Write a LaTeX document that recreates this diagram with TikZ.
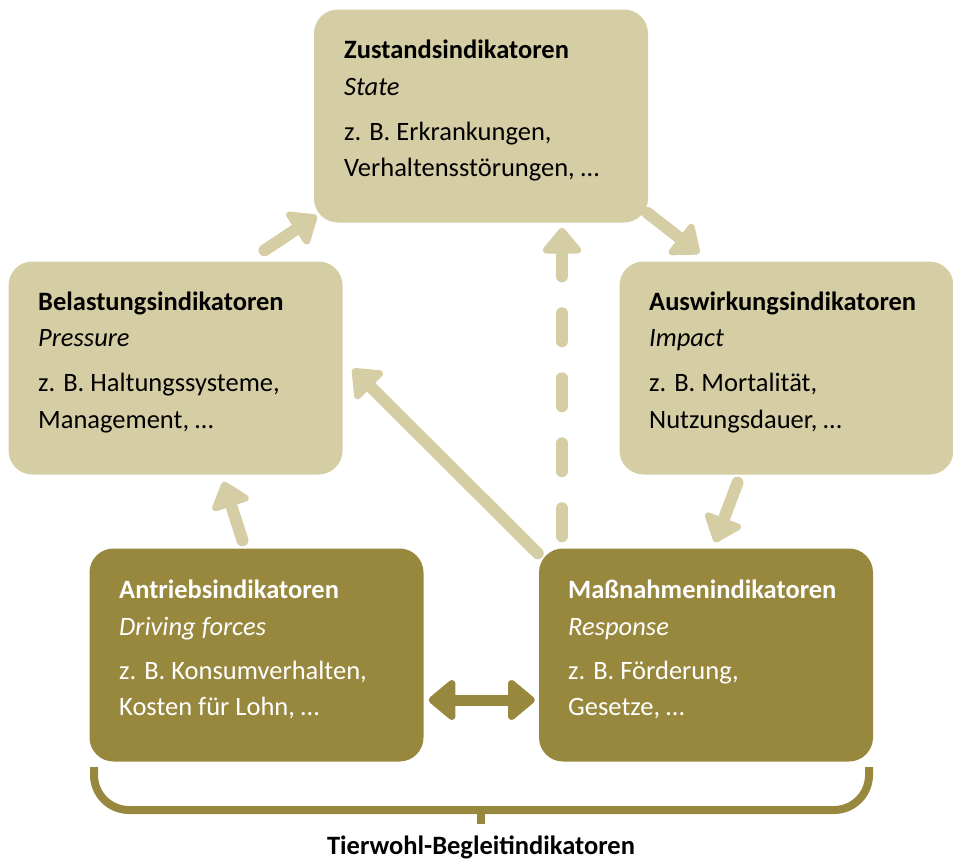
\documentclass[tikz,border=0pt]{standalone}
\usepackage{fontspec}
\setmainfont{Carlito}
\usetikzlibrary{arrows.meta}
\definecolor{light}{RGB}{213,205,164}
\definecolor{dark}{RGB}{152,136,62}
\tikzset{
  box/.style={rounded corners=24pt, minimum width=334pt, minimum height=213pt, inner sep=0pt, draw=none},
  lbox/.style={box, fill=light},
  dbox/.style={box, fill=dark},
  txt/.style={anchor=base west, inner sep=0pt, font=\fontsize{26.5pt}{30pt}\selectfont},
  bold/.style={txt, font=\fontsize{26.5pt}{30pt}\selectfont\bfseries},
  ital/.style={txt, font=\fontsize{26.5pt}{30pt}\selectfont\itshape},
  arr/.style={draw=light, line width=12pt, line cap=round,
     -{Triangle[width=44pt,length=28pt,round]}},
  darr/.style={draw=dark, line width=11pt,
     {Triangle[width=46pt,length=29pt,round]}-{Triangle[width=46pt,length=29pt,round]}},
  brace/.style={draw=dark, line width=8pt}
}
\begin{document}
\begin{tikzpicture}[x=1pt,y=-1pt]
\useasboundingbox (0,0) rectangle (953,862);
% boxes
\node[lbox] (zust) at (481,116) {};
\node[lbox] (bel) at (175.5,368) {};
\node[lbox] (ausw) at (786.5,368) {};
\node[dbox] (antr) at (256.5,655) {};
\node[dbox] (mass) at (706,655) {};
% texts
\node[bold] (z1) at (344,58) {Zustandsindikatoren};
\node[ital] (z2) at (344,95) {State};
\node[txt] (z3) at (344,140) {z. B. Erkrankungen,};
\node[txt] (z4) at (344,176) {Verhaltensstörungen, …};
\node[bold] (b1) at (38,310) {Belastungsindikatoren};
\node[ital] (b2) at (38,346) {Pressure};
\node[txt] (b3) at (38,391) {z. B. Haltungssysteme,};
\node[txt] (b4) at (38,428) {Management, …};
\node[bold] (a1) at (649,310) {Auswirkungsindikatoren};
\node[ital] (a2) at (649,346) {Impact};
\node[txt] (a3) at (649,391) {z. B. Mortalität,};
\node[txt] (a4) at (649,428) {Nutzungsdauer, …};
\node[bold, text=white] (d1) at (119,598) {Antriebsindikatoren};
\node[ital, text=white] (d2) at (119,635) {Driving forces};
\node[txt, text=white] (d3) at (119,679) {z. B. Konsumverhalten,};
\node[txt, text=white] (d4) at (119,715) {Kosten für Lohn, …};
\node[bold, text=white] (m1) at (568,598) {Maßnahmenindikatoren};
\node[ital, text=white] (m2) at (568,635) {Response};
\node[txt, text=white] (m3) at (568,679) {z. B. Förderung,};
\node[txt, text=white] (m4) at (568,715) {Gesetze, …};
% arrows
\draw[arr] ([shift={(89,-11)}]bel.north) -- ([shift={(3,-7)}]zust.south west);
\draw[arr] ([shift={(-1,-10)}]zust.south east) -- ([shift={(80,-8)}]ausw.north west);
\draw[arr] ([shift={(-49,8)}]ausw.south) -- ([shift={(9,-6)}]mass.north);
\draw[arr] ([shift={(-14,-8)}]antr.north) -- ([shift={(48,7)}]bel.south);
\draw[arr] ([shift={(-1,5)}]mass.north west) -- ([shift={(10,1)}]bel.east);
\draw[arr, dash pattern=on 28pt off 37pt, dash phase=53pt] ([shift={(-144,0)}]mass.north) -- ([shift={(81,5)}]zust.south);
\draw[darr] ([shift={(5,45)}]antr.east) -- ([shift={(-4,45)}]mass.west);
% brace
\coordinate (bl) at (94,767);
\coordinate (br) at (869,767);
\coordinate (bm) at (481,810);
\coordinate (bt) at (481,824);
\draw[brace, rounded corners=35pt] (bl) -- (94,810) -- (869,810) -- (br);
\draw[brace] (bm) -- (bt);
\node[bold, anchor=center] (lab) at (481,847) {Tierwohl-Begleitindikatoren};
\end{tikzpicture}
\end{document}
